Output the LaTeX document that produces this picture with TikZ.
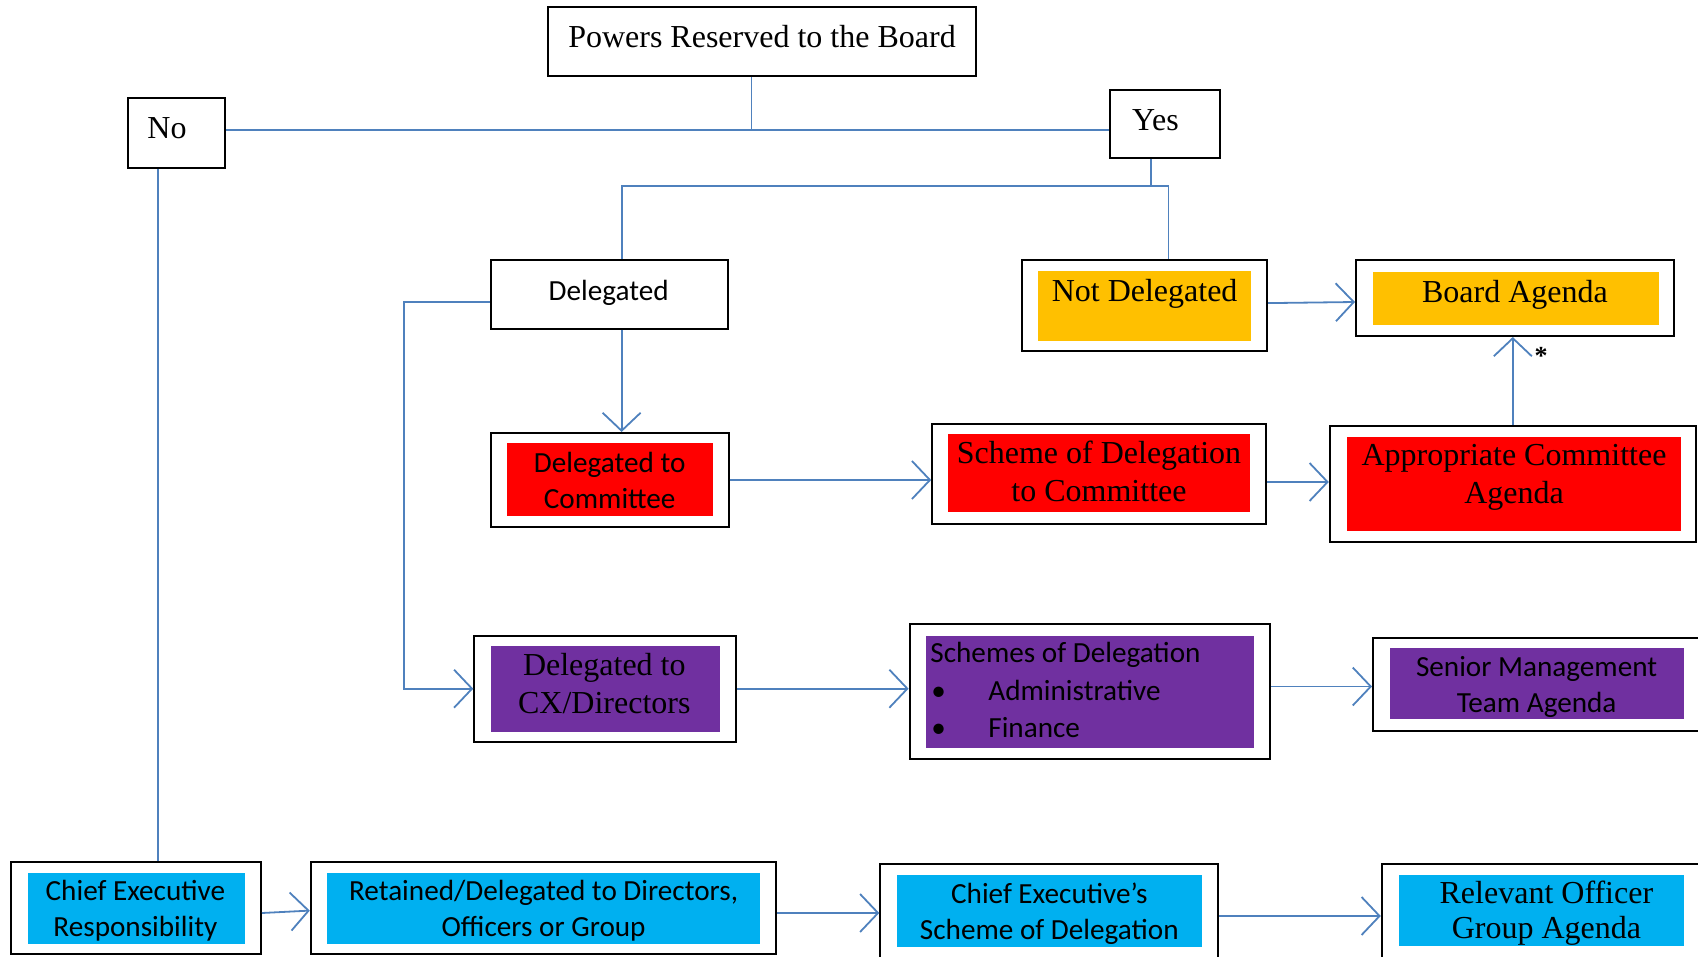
\documentclass[tikz,border=0pt]{standalone}
\usepackage{fontspec}
\setmainfont{Liberation Serif}
\newfontfamily\calibri{Carlito}
\usetikzlibrary{arrows.meta}
\definecolor{conncol}{HTML}{4F81BD}
\definecolor{orangefill}{HTML}{FFC000}
\definecolor{redfill}{HTML}{FF0000}
\definecolor{purplefill}{HTML}{7030A0}
\definecolor{cyanfill}{HTML}{00B0F0}
\tikzset{
  outerbox/.style={draw=black, line width=1pt, fill=white, inner sep=0pt},
  innerbox/.style={draw=none, inner sep=0pt},
  serift/.style={font=\fontsize{16}{19}\selectfont, align=center, inner sep=0pt},
  sanst/.style={font=\calibri\fontsize{14.6}{18}\selectfont, align=center, inner sep=0pt},
  conn/.style={draw=conncol, line width=0.9pt},
  arr/.style={conn, -{Straight Barb[length=9pt,width=19pt,line width=0.9pt]}},
}
\begin{document}
\begin{tikzpicture}[x=0.5pt,y=-0.5pt]
\useasboundingbox (0,0) rectangle (1698,957);
% helper coordinates
\coordinate (j1) at (751.5,130);
\coordinate (j2) at (1151,186);
\coordinate (j3) at (621.6,186);
\coordinate (j4) at (1168.5,186);
\coordinate (j5) at (404,302);
\coordinate (j6) at (158,0);

% top
\node[outerbox, minimum width=214pt, minimum height=34.75pt] (pw) at (762,41.3) {};
\node[serift] (pwt) at (762,37) {Powers Reserved to the Board};
\node[outerbox, minimum width=48.5pt, minimum height=34.75pt] (no) at (176.5,133.2) {};
\node[serift] (not) at (167,128) {No};
\node[outerbox, minimum width=55pt, minimum height=34pt] (yes) at (1165,124) {};
\node[serift] (yest) at (1155.5,120) {Yes};

\node[outerbox, minimum width=118.5pt, minimum height=34.5pt] (del) at (609,294.5) {};
\node[sanst] (delt) at (608.6,292.5) {Delegated};

% not delegated
\node[outerbox, minimum width=122.5pt, minimum height=45.5pt] (nd) at (1144.5,305.5) {};
\node[innerbox, fill=orangefill, minimum width=106.25pt, minimum height=35pt] (ndi) at (1144.7,306) {};
\node[serift] (ndt) at (1144.6,293.5) {Not Delegated};

% board agenda
\node[outerbox, minimum width=159pt, minimum height=38pt] (ba) at (1515,298) {};
\node[innerbox, fill=orangefill, minimum width=143pt, minimum height=26.5pt] (bai) at (1516,298.4) {};
\node[serift] (bat) at (1515,295) {Board Agenda};

% delegated to committee
\node[outerbox, minimum width=119pt, minimum height=47pt] (dc) at (609.7,480) {};
\node[innerbox, fill=redfill, minimum width=102.85pt, minimum height=36.75pt] (dci) at (609.7,479.7) {};
\node[sanst] (dct) at (609.7,480.8) {Delegated to\\Committee};

% scheme of delegation to committee
\node[outerbox, minimum width=166.8pt, minimum height=49.75pt] (sc) at (1099,474) {};
\node[innerbox, fill=redfill, minimum width=151pt, minimum height=39pt] (sci) at (1098.6,473) {};
\node[serift] (sct) at (1099,471) {Scheme of Delegation\\to Committee};

% appropriate committee agenda
\node[outerbox, minimum width=183pt, minimum height=58pt] (ac) at (1512.8,483.5) {};
\node[innerbox, fill=redfill, minimum width=167.3pt, minimum height=47pt] (aci) at (1514,483.5) {};
\node[serift] (act) at (1514,477) {Appropriate Committee\\Agenda};
\node[font=\fontsize{13}{13}\selectfont\bfseries, inner sep=0pt] (star) at (1541,356) {*};

% delegated to CX/Directors
\node[outerbox, minimum width=131pt, minimum height=53pt] (cx) at (605.3,688.7) {};
\node[innerbox, fill=purplefill, minimum width=114.75pt, minimum height=42.75pt] (cxi) at (605.3,689) {};
\node[serift] (cxt) at (604.3,683.3) {Delegated to\\CX/Directors};

% schemes of delegation
\node[outerbox, minimum width=180.3pt, minimum height=67.65pt] (sd) at (1089.9,691.5) {};
\node[innerbox, fill=purplefill, minimum width=164pt, minimum height=56.3pt] (sdi) at (1090,692) {};
\node[sanst, align=left, anchor=north west, font=\calibri\fontsize{14.6}{18.7}\selectfont] (sdt) at (930,642)
  {Schemes of Delegation\\\makebox[29pt][l]{\hspace{0.5pt}•}Administrative\\\makebox[29pt][l]{\hspace{0.5pt}•}Finance};

% senior management team agenda
\node[outerbox, minimum width=163.5pt, minimum height=46.6pt] (smt) at (1536.5,684.4) {};
\node[innerbox, fill=purplefill, minimum width=146.8pt, minimum height=35.7pt] (smti) at (1537,683.3) {};
\node[sanst] (smtt) at (1536.6,687) {Senior Management\\Team Agenda};

% bottom row
\node[outerbox, minimum width=125pt, minimum height=46pt] (cer) at (136,908) {};
\node[innerbox, fill=cyanfill, minimum width=108.25pt, minimum height=35.75pt] (ceri) at (136.5,908.5) {};
\node[sanst] (cert) at (135.4,911) {Chief Executive\\Responsibility};

\node[outerbox, minimum width=232.8pt, minimum height=46pt] (rd) at (543.6,908) {};
\node[innerbox, fill=cyanfill, minimum width=216.5pt, minimum height=35.75pt] (rdi) at (543.6,908.5) {};
\node[sanst] (rdt) at (543.6,911) {Retained/Delegated to Directors,\\Officers or Group};

\node[outerbox, minimum width=169pt, minimum height=48pt] (ces) at (1049.3,912) {};
\node[innerbox, fill=cyanfill, minimum width=152.7pt, minimum height=36.25pt] (cesi) at (1049.3,911.2) {};
\node[sanst] (cest) at (1049.3,913.5) {Chief Executive’s\\Scheme of Delegation};

\node[outerbox, minimum width=159.1pt, minimum height=48pt] (rog) at (1540.9,912) {};
\node[innerbox, fill=cyanfill, minimum width=142.5pt, minimum height=35.75pt] (rogi) at (1541.5,910.7) {};
\node[serift, font=\fontsize{16}{17.8}\selectfont] (rogt) at (1546.4,913) {Relevant Officer\\Group Agenda};

% connectors
\draw[conn] (j1 |- pw.south) -- (j1);
\draw[conn] (no.east |- j1) -- (yes.west |- j1);
\draw[conn] (j2 |- yes.south) -- (j2);
\draw[conn] (j3 |- del.north) -- (j3) -- (j4) -- (j4 |- nd.north);
\draw[arr] (j3 |- del.south) -- (j3 |- dc.north);
\draw[arr] (del.west |- j5) -- (j5) -- (j5 |- cx.west) -- (cx.west);
\draw[arr] ([yshift=1.2pt]nd.east) -- ([yshift=-2pt]ba.west);
\draw[arr] (dc.east) -- (dc.east -| sc.west);
\draw[arr] ([yshift=-4pt]sc.east) -- ([yshift=-4pt]sc.east -| ac.west);
\draw[arr] (ac.north) -- (ac.north |- ba.south);
\draw[arr] (cx.east) -- (cx.east -| sd.west);
\draw[arr] ([yshift=2.5pt]sd.east) -- ([yshift=2.5pt]sd.east -| smt.west);
\draw[conn] (j6 |- no.south) -- (j6 |- cer.north);
\draw[arr] ([yshift=-2.5pt]cer.east) -- ([yshift=-1.3pt]rd.west);
\draw[arr] ([yshift=-2.5pt]rd.east) -- ([yshift=-2.5pt]rd.east -| ces.west);
\draw[arr] ([yshift=-2pt]ces.east) -- ([yshift=-2pt]ces.east -| rog.west);
\end{tikzpicture}
\end{document}
